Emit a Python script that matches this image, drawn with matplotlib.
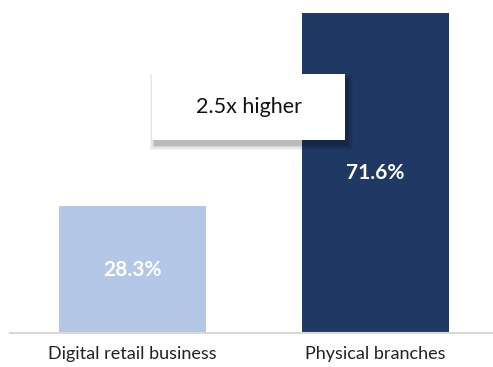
import matplotlib
matplotlib.use("Agg")
import matplotlib.pyplot as plt
from matplotlib.patches import Rectangle

plt.rcParams['font.family'] = ['Lato', 'DejaVu Sans']

# share of revenue by channel
channels = ["Digital retail business", "Physical branches"]
shares = [28.3, 71.6]
bar_colors = ["#B4C7E7", "#203864"]
callout = "2.5x higher"

W, H = 493, 367
fig = plt.figure(figsize=(W / 100, H / 100), dpi=100)
ax = fig.add_axes([0, 34 / H, 1, 333 / H])

x = list(range(len(channels)))
bars = ax.bar(x, shares, width=0.605, color=bar_colors, zorder=2)
ax.set_xlim(-132.5 / 243, (W - 132.5) / 243)
ax.set_ylim(0, 333 / 4.475)

# value labels in the middle of each bar
for b, v in zip(bars, shares):
    ax.text(b.get_x() + b.get_width() / 2, v / 2,
            f"{v:.1f}%", ha="center", va="center", color="white",
            fontsize=15, fontweight="bold", zorder=3)

ax.axhline(0, xmin=10 / W, xmax=1, color="#D9D9D9", lw=1.5, zorder=3, clip_on=False)

ax.set_xticks(x)
ax.set_xticklabels(channels, fontsize=13, color="#222222")
ax.tick_params(axis="x", length=0, pad=9)
ax.set_yticks([])
for s in ax.spines.values():
    s.set_visible(False)

# callout box with a soft shadow
bx, by, bw, bh = 152 / W, (H - 140) / H, 193 / W, 66 / H
for i, a in enumerate([0.04, 0.06, 0.08, 0.11]):
    grow = (4 - i) * 1.2
    fig.patches.append(Rectangle(((152 + 3 - grow) / W, (H - 140 - 5 - grow) / H),
                                 (193 + 2 * grow) / W, (66 + 2 * grow) / H,
                                 transform=fig.transFigure, facecolor="black",
                                 edgecolor="none", alpha=a, zorder=5))
fig.patches.append(Rectangle((bx, by), bw, bh, transform=fig.transFigure,
                             facecolor="white", edgecolor="none", zorder=6))
fig.text(bx + bw / 2, by + bh / 2, callout, ha="center", va="center",
         fontsize=15.5, color="#111111", zorder=7)

fig.savefig("out.png", dpi=100)
